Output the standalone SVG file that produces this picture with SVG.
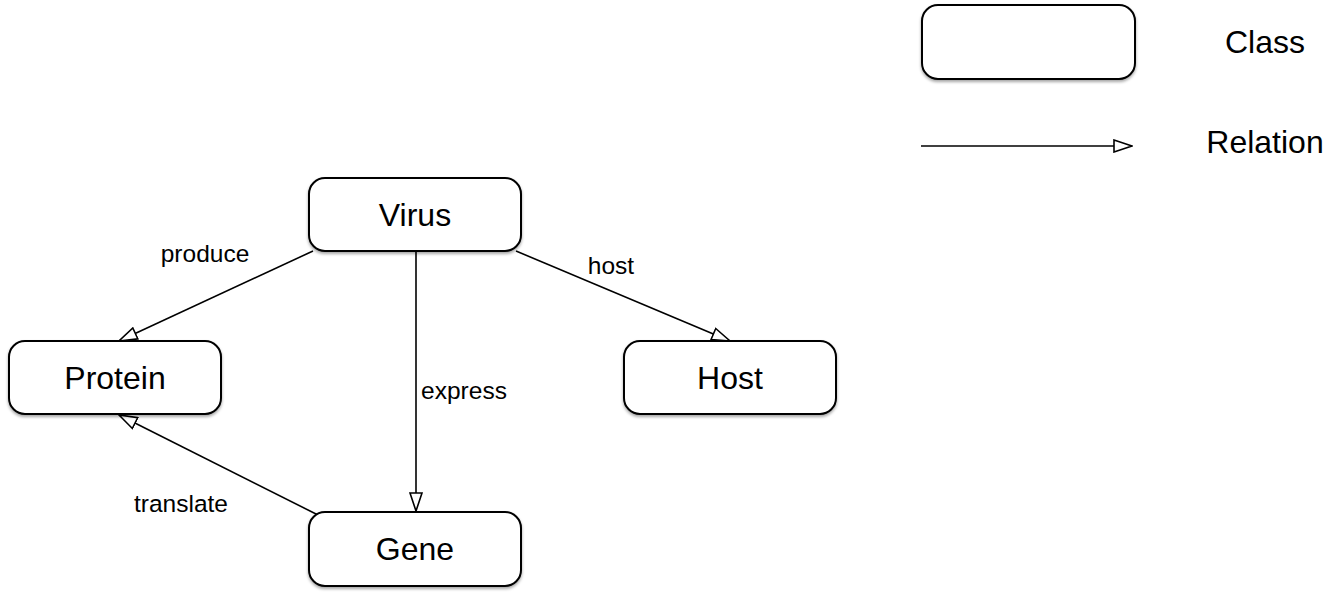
<svg xmlns="http://www.w3.org/2000/svg" width="1338" height="598" viewBox="0 0 1338 598">
<style>
.box{fill:#fff;stroke:#000;stroke-width:2;filter:url(#sh)}
.lbl{font-family:"Liberation Sans",Arial,sans-serif;font-size:32px;fill:#000;text-anchor:middle;dominant-baseline:central}
.el{font-family:"Liberation Sans",Arial,sans-serif;font-size:24.5px;fill:#000;text-anchor:middle;dominant-baseline:central}
.edge{fill:none;stroke:#000;stroke-width:1.6;marker-end:url(#tri)}
</style>
<defs>
<filter id="sh" x="-10%" y="-10%" width="120%" height="130%">
<feDropShadow dx="0" dy="2" stdDeviation="1.5" flood-color="#000" flood-opacity="0.35"/>
</filter>
<marker id="tri" viewBox="0 0 20 14" refX="19" refY="7" markerWidth="20" markerHeight="14" markerUnits="userSpaceOnUse" orient="auto">
<path d="M1,1 L19,7 L1,13 Z" fill="#fff" stroke="#000" stroke-width="1.6"/>
</marker>
</defs>
<rect width="1338" height="598" fill="#fff"/>
<g id="connectors">
<line class="edge" x1="313" y1="251" x2="119" y2="341"/>
<line class="edge" x1="416" y1="251" x2="416" y2="511"/>
<line class="edge" x1="516" y1="251" x2="730" y2="341"/>
<line class="edge" x1="318" y1="515" x2="119" y2="415"/>
<text class="el" x="205" y="253">produce</text>
<text class="el" x="611" y="265">host</text>
<text class="el" x="464" y="390">express</text>
<text class="el" x="181" y="503">translate</text>
</g>
<g id="node-virus">
<rect class="box" x="309" y="178" width="212" height="73" rx="16"/>
<text class="lbl" x="415" y="215">Virus</text>
</g>
<g id="node-protein">
<rect class="box" x="9" y="341" width="212" height="73" rx="16"/>
<text class="lbl" x="115" y="378">Protein</text>
</g>
<g id="node-host">
<rect class="box" x="624" y="341" width="212" height="73" rx="16"/>
<text class="lbl" x="730" y="378">Host</text>
</g>
<g id="node-gene">
<rect class="box" x="309" y="512" width="212" height="74" rx="16"/>
<text class="lbl" x="415" y="549">Gene</text>
</g>
<g id="legend">
<rect class="box" x="922" y="5" width="213" height="74" rx="16"/>
<text class="lbl" x="1265" y="42">Class</text>
<line class="edge" x1="921" y1="146" x2="1132" y2="146"/>
<text class="lbl" x="1265" y="142">Relation</text>
</g>
</svg>
